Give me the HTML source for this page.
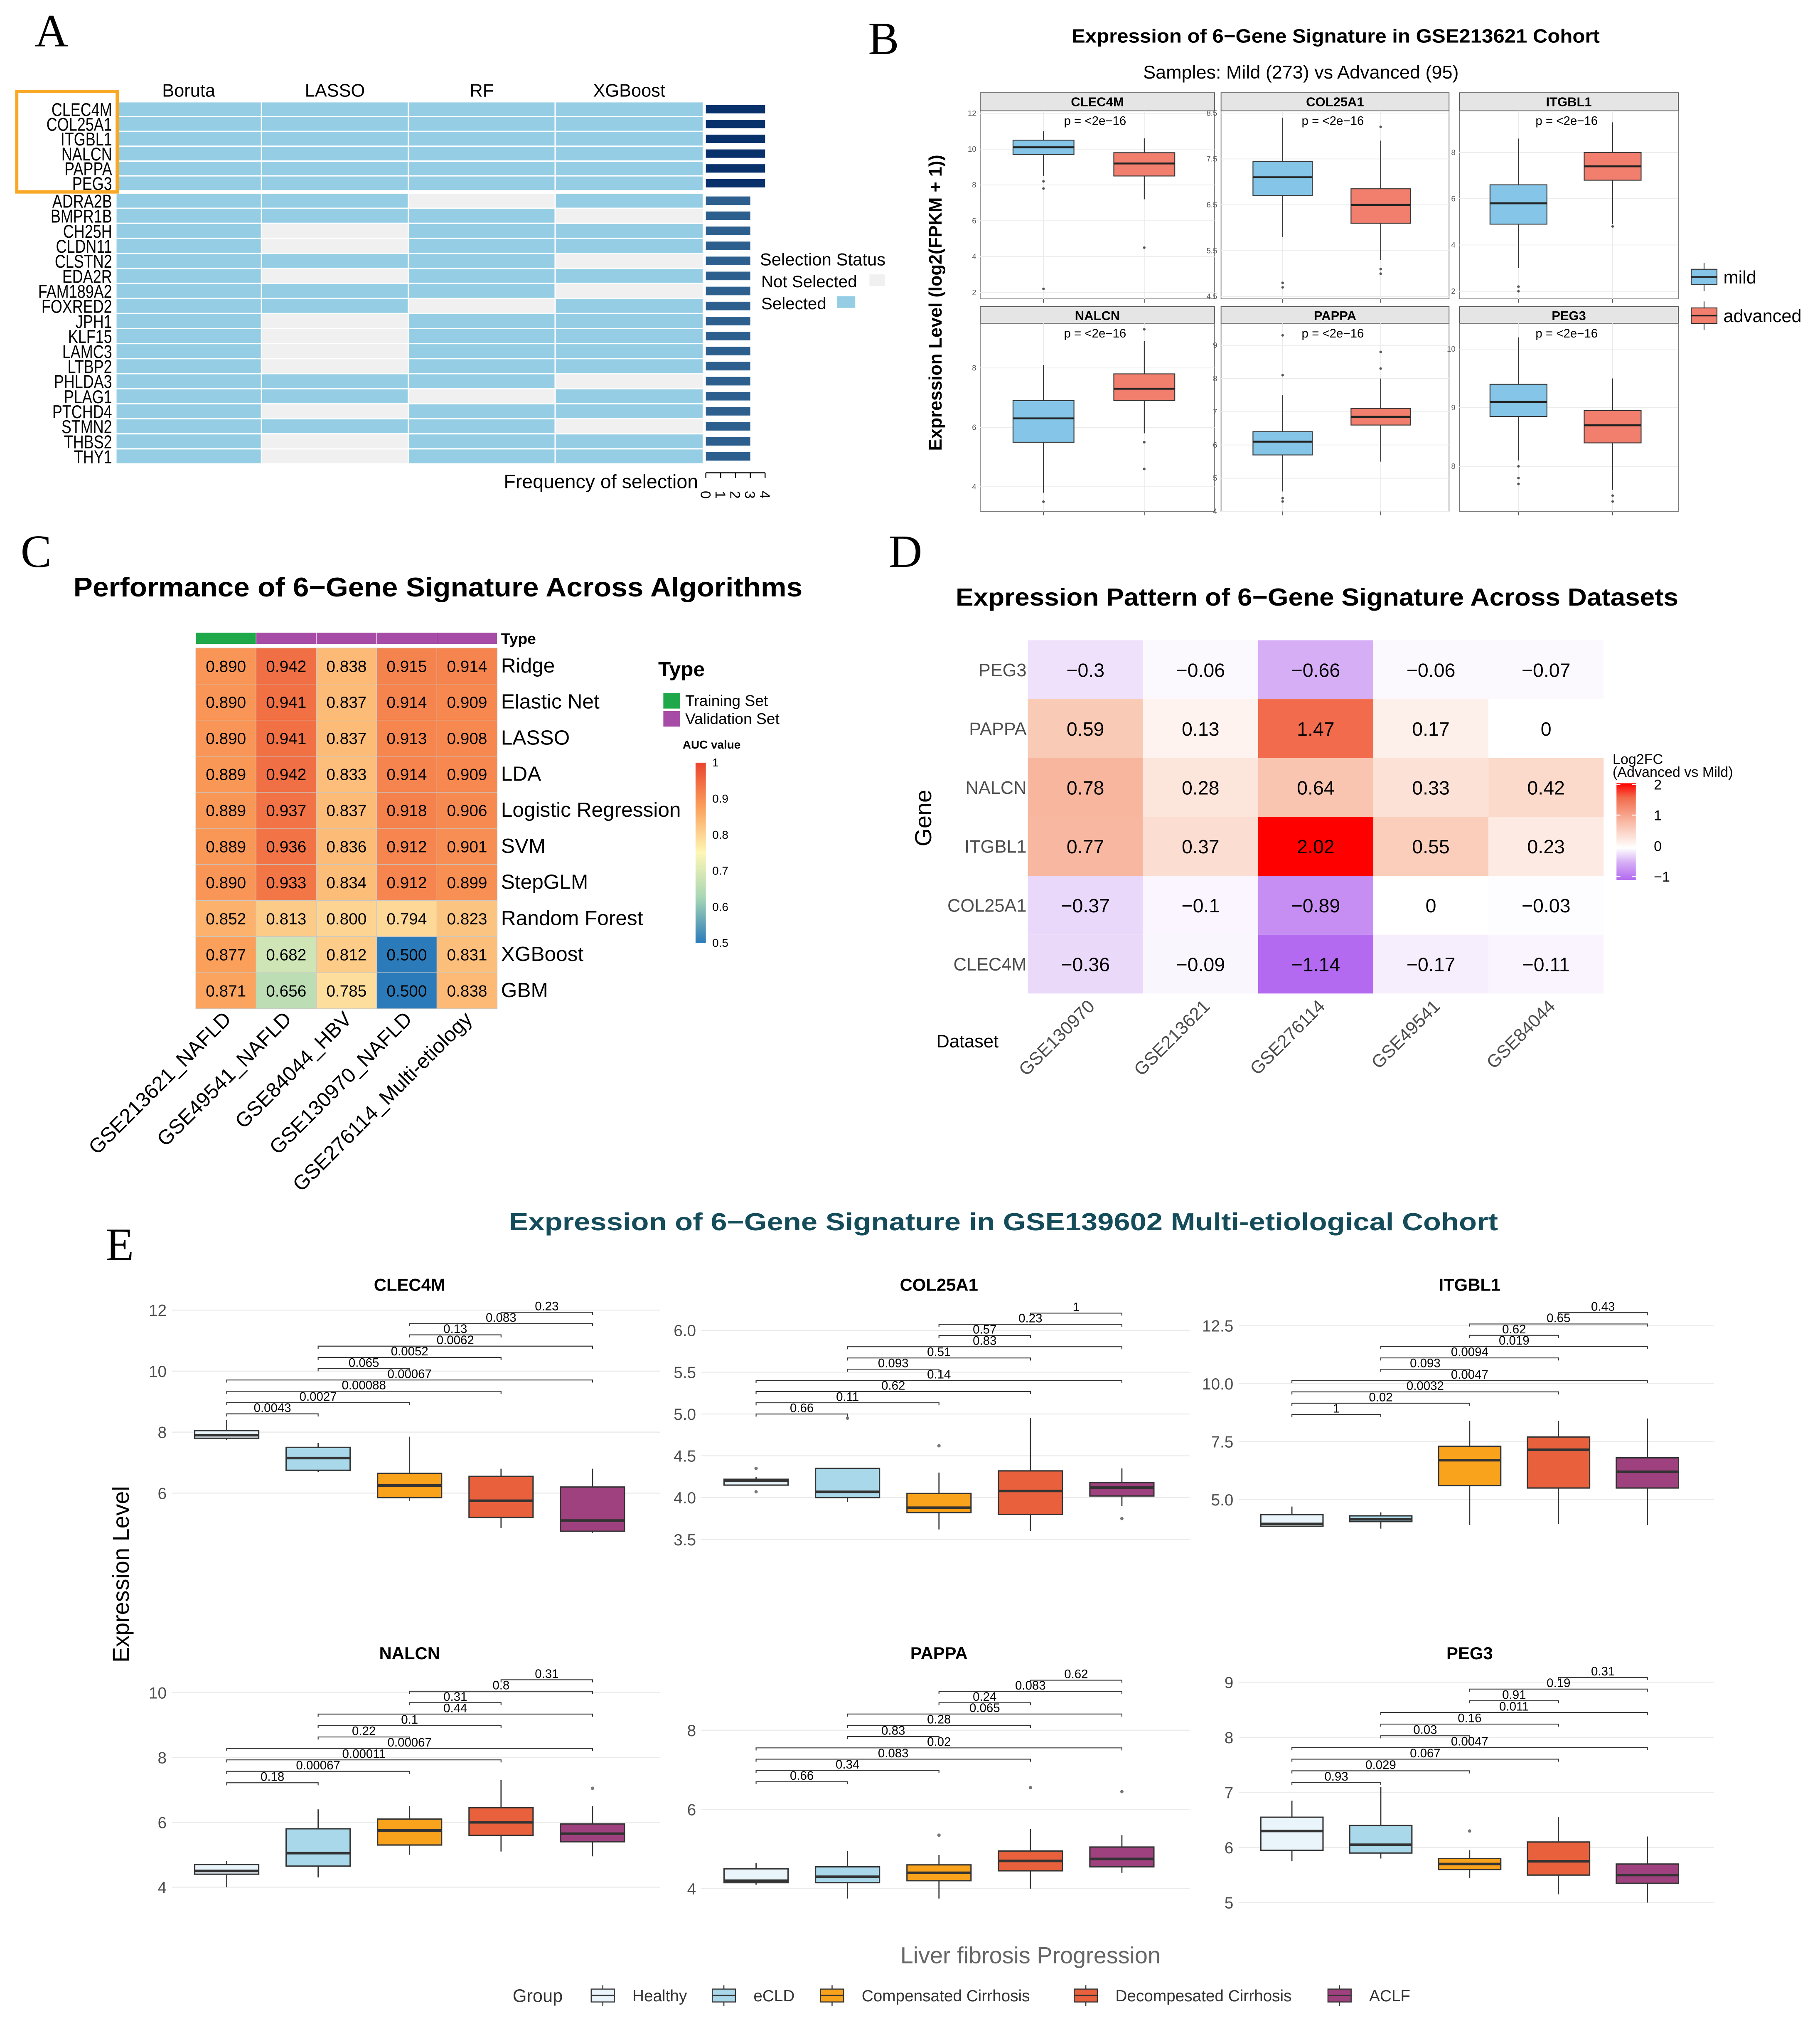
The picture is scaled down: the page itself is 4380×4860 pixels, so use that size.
<!DOCTYPE html>
<html><head><meta charset="utf-8">
<style>
html,body{margin:0;padding:0;background:#fff;}
svg{display:block;font-family:"Liberation Sans",sans-serif;}
</style></head>
<body>
<svg id="fig" xmlns="http://www.w3.org/2000/svg" width="4380" height="4860" viewBox="0 0 1413 1568" preserveAspectRatio="none"></svg>
<script>
// ---------- DATA ----------
// Panel A
const aGenes = ['CLEC4M','COL25A1','ITGBL1','NALCN','PAPPA','PEG3','ADRA2B','BMPR1B','CH25H','CLDN11','CLSTN2','EDA2R','FAM189A2','FOXRED2','JPH1','KLF15','LAMC3','LTBP2','PHLDA3','PLAG1','PTCHD4','STMN2','THBS2','THY1'];
const aMethods = ['Boruta','LASSO','RF','XGBoost'];
const aSel = [[1,1,1,1],[1,1,1,1],[1,1,1,1],[1,1,1,1],[1,1,1,1],[1,1,1,1],
 [1,1,0,1],[1,1,1,0],[1,0,1,1],[1,0,1,1],[1,1,1,0],[1,0,1,1],[1,1,1,0],[1,1,0,1],
 [1,0,1,1],[1,0,1,1],[1,0,1,1],[1,0,1,1],[1,1,1,0],[1,1,0,1],[1,0,1,1],[1,1,1,0],[1,0,1,1],[1,0,1,1]];
const aFreqTicks = [0,1,2,3,4];

// Panel B
const bGenes = ['CLEC4M','COL25A1','ITGBL1','NALCN','PAPPA','PEG3'];
const bTicks = [[2,4,6,8,10,12],[4.5,5.5,6.5,7.5,8.5],[2,4,6,8],[4,6,8],[4,5,6,7,8,9],[8,9,10]];
const bMild = [[8.5,9.7,10.1,10.5,11.0],[5.8,6.7,7.1,7.45,8.4],[3.0,4.9,5.8,6.6,8.6],[3.8,5.5,6.3,6.9,8.1],[4.6,5.7,6.1,6.4,7.5],[8.1,8.85,9.1,9.4,10.2]];
const bAdv = [[7.2,8.5,9.2,9.8,10.6],[5.3,6.1,6.5,6.85,7.9],[4.9,6.8,7.4,8.0,9.3],[5.8,6.9,7.3,7.8,8.9],[5.5,6.6,6.85,7.1,8.0],[7.6,8.4,8.7,8.95,9.5]];
const bMildOut = [[7.8,8.2,2.2],[4.7,4.8],[2.2,2.0],[3.5],[4.3,4.4,8.1,9.3],[7.8,7.7,8.0]];
const bAdvOut = [[4.5],[5.0,5.1,8.2],[4.8],[5.5,4.6,9.3],[8.3,8.8],[7.5,7.4]];
const bPLabel = ['p = <2e\u221216','p = <2e\u221216','p = <2e\u221216','p = <2e\u221216','p = <2e\u221216','p = <2e\u221216'];

// Panel C
const cAlgos = ['Ridge','Elastic Net','LASSO','LDA','Logistic Regression','SVM','StepGLM','Random Forest','XGBoost','GBM'];
const cDatasets = ['GSE213621_NAFLD','GSE49541_NAFLD','GSE84044_HBV','GSE130970_NAFLD','GSE276114_Multi-etiology'];
const cType = ['Training','Validation','Validation','Validation','Validation'];
const cAUC = [[0.890,0.942,0.838,0.915,0.914],[0.890,0.941,0.837,0.914,0.909],[0.890,0.941,0.837,0.913,0.908],[0.889,0.942,0.833,0.914,0.909],[0.889,0.937,0.837,0.918,0.906],[0.889,0.936,0.836,0.912,0.901],[0.890,0.933,0.834,0.912,0.899],[0.852,0.813,0.800,0.794,0.823],[0.877,0.682,0.812,0.500,0.831],[0.871,0.656,0.785,0.500,0.838]];
const cLegendTicks = [1,0.9,0.8,0.7,0.6,0.5];

// Panel D
const dGenes = ['PEG3','PAPPA','NALCN','ITGBL1','COL25A1','CLEC4M'];
const dDatasets = ['GSE130970','GSE213621','GSE276114','GSE49541','GSE84044'];
const dFC = [[-0.3,-0.06,-0.66,-0.06,-0.07],[0.59,0.13,1.47,0.17,0],[0.78,0.28,0.64,0.33,0.42],[0.77,0.37,2.02,0.55,0.23],[-0.37,-0.1,-0.89,0,-0.03],[-0.36,-0.09,-1.14,-0.17,-0.11]];
const dLegendTicks = [2,1,0,-1];

// Panel E
const eGenes = ['CLEC4M','COL25A1','ITGBL1','NALCN','PAPPA','PEG3'];
const eGroups = ['Healthy','eCLD','Compensated Cirrhosis','Decompesated Cirrhosis','ACLF'];
const eTicks = [[6,8,10,12],[3.5,4.0,4.5,5.0,5.5,6.0],[5.0,7.5,10.0,12.5],[4,6,8,10],[4,6,8],[5,6,7,8,9]];
const eTickLabels = [['6','8','10','12'],['3.5','4.0','4.5','5.0','5.5','6.0'],['5.0','7.5','10.0','12.5'],['4','6','8','10'],['4','6','8'],['5','6','7','8','9']];
const eStats = [
 [[7.75,7.8,7.9,8.05,8.4],[6.7,6.75,7.15,7.5,7.65],[5.75,5.85,6.25,6.65,7.85],[4.85,5.2,5.75,6.55,6.8],[4.7,4.75,5.1,6.2,6.8]],
 [[4.15,4.15,4.2,4.22,4.25],[3.95,4.0,4.07,4.35,4.35],[3.62,3.82,3.88,4.05,4.3],[3.6,3.8,4.08,4.32,4.95],[3.9,4.02,4.12,4.18,4.35]],
 [[3.85,3.85,3.95,4.35,4.7],[3.75,4.05,4.15,4.3,4.45],[3.9,5.6,6.7,7.3,8.4],[3.95,5.5,7.15,7.7,8.4],[3.9,5.5,6.2,6.8,8.5]],
 [[4.0,4.4,4.5,4.7,4.8],[4.3,4.65,5.05,5.8,6.4],[5.0,5.3,5.75,6.1,6.5],[5.1,5.6,6.0,6.45,7.3],[4.95,5.4,5.65,5.95,6.5]],
 [[4.1,4.15,4.2,4.5,4.65],[3.75,4.15,4.3,4.55,4.95],[3.75,4.2,4.4,4.6,4.85],[4.0,4.45,4.7,4.95,5.5],[4.4,4.55,4.75,5.05,5.35]],
 [[5.75,5.95,6.3,6.55,6.85],[5.8,5.9,6.05,6.4,7.1],[5.45,5.6,5.7,5.8,5.95],[5.15,5.5,5.75,6.1,6.55],[5.0,5.35,5.5,5.7,6.2]]
];
const eOut = [
 [[],[],[],[],[]],
 [[4.35,4.07],[4.95],[4.62],[],[3.75]],
 [[],[],[],[],[]],
 [[],[],[],[],[7.05]],
 [[],[],[5.35],[6.55],[6.45]],
 [[],[],[6.3],[],[]]
];
const ePairs = [[0,1],[0,2],[0,3],[0,4],[1,2],[1,3],[1,4],[2,3],[2,4],[3,4]];
const ePvals = [
 ['0.0043','0.0027','0.00088','0.00067','0.065','0.0052','0.0062','0.13','0.083','0.23'],
 ['0.66','0.11','0.62','0.14','0.093','0.51','0.83','0.57','0.23','1'],
 ['1','0.02','0.0032','0.0047','0.093','0.0094','0.019','0.62','0.65','0.43'],
 ['0.18','0.00067','0.00011','0.00067','0.22','0.1','0.44','0.31','0.8','0.31'],
 ['0.66','0.34','0.083','0.02','0.83','0.28','0.065','0.24','0.083','0.62'],
 ['0.93','0.029','0.067','0.0047','0.03','0.16','0.011','0.91','0.19','0.31']
];

// ---------- helpers ----------
const NS='http://www.w3.org/2000/svg';
const svg=document.getElementById('fig');
function mk(tag,a,p){const e=document.createElementNS(NS,tag);for(const k in a)e.setAttribute(k,a[k]);(p||svg).appendChild(e);return e;}
function tx(s,a,p){const e=mk('text',a,p);e.textContent=s;return e;}
function grp(p){return mk('g',{},p);}
function hex(c){return [parseInt(c.slice(1,3),16),parseInt(c.slice(3,5),16),parseInt(c.slice(5,7),16)];}
function lerpC(stops,t){t=Math.max(0,Math.min(1,t));for(let i=0;i<stops.length-1;i++){const [t0,c0]=stops[i],[t1,c1]=stops[i+1];if(t<=t1){const f=(t-t0)/(t1-t0||1);const a=hex(c0),b=hex(c1);return 'rgb('+a.map((v,k)=>Math.round(v+(b[k]-v)*f)).join(',')+')';}}return stops[stops.length-1][1];}

// ---------- Panel labels ----------
[['A',40,36],['B',686,42],['C',28,440],['D',703,440],['E',93,978]].forEach(([s,x,y])=>{
 const t=tx(s,{x:x,y:y,'font-family':'Liberation Serif, serif','font-size':36,'text-anchor':'middle'});
 
 
});

// ---------- Panel A ----------
(function(){
 const g=grp();
 
 
 const colX=[90,203,317,431,546];
 aMethods.forEach((m,j)=>{
  const t=tx(m,{x:(colX[j]+colX[j+1])/2,y:75,'font-size':14,'text-anchor':'middle'},g);
  
  
 });
 const rowY=i=>i<6?79+i*11.5:150+(i-6)*11.67;
 const rowH=i=>i<6?11.5:11.67;
 aGenes.forEach((gn,i)=>{
  const y=rowY(i),h=rowH(i);
  const lab=tx(gn,{x:0,y:0,'font-size':14.5,'text-anchor':'end',transform:'translate(87 '+(y+h-0.5)+') scale(0.8 1)'},g);
  
  
  let f=0;
  aSel[i].forEach((s,j)=>{
   f+=s;
   const r=mk('rect',{x:colX[j]+0.5,y:y+0.5,width:colX[j+1]-colX[j]-1,height:h-1,fill:s?'#95CEE4':'#F0F0F0'},g);
   
   
  });
  const b=mk('rect',{x:548,y:y+2.5,width:f*11.5,height:h-5,fill:f===4?'#08306B':'#2C5F8E'},g);
  
  
 });
 const box=mk('rect',{x:13,y:71,width:78,height:78,fill:'none',stroke:'#F9A825','stroke-width':2.5},g);
 
 
 mk('line',{x1:548,x2:548+46,y1:367,y2:367,stroke:'#000','stroke-width':0.8},g);
 aFreqTicks.forEach(v=>{
  const x=548+v*11.5;
  mk('line',{x1:x,x2:x,y1:367,y2:371,stroke:'#000','stroke-width':0.8},g);
  const t=tx(String(v),{x:x+4,y:373,'font-size':11,'text-anchor':'start',transform:'rotate(90 '+(x-4)+' 373)'},g);
  
  
 });
 const ft=tx('Frequency of selection',{x:542,y:379,'font-size':15,'text-anchor':'end'},g);
 
 
 const lt=tx('Selection Status',{x:590,y:206,'font-size':13.5},g);
 
 
 const l1=tx('Not Selected',{x:591,y:223,'font-size':13},g);
 
 
 mk('rect',{x:675,y:213,width:12,height:9,fill:'#F0F0F0'},g);
 const l2=tx('Selected',{x:591,y:240,'font-size':13},g);
 
 
 mk('rect',{x:650,y:230,width:14,height:9,fill:'#95CEE4'},g);
})();

// ---------- Panel B ----------
(function(){
 const g=grp();
 
 
 const t=tx('Expression of 6\u2212Gene Signature in GSE213621 Cohort',{x:832,y:33,'font-size':15,'font-weight':'bold',textLength:410,lengthAdjust:'spacingAndGlyphs'},g);
 
 
 const st=tx('Samples: Mild (273) vs Advanced (95)',{x:1010,y:61,'font-size':14.5,'text-anchor':'middle'},g);
 
 
 const yl=tx('Expression Level (log2(FPKM + 1))',{x:0,y:0,'font-size':14,'font-weight':'bold','text-anchor':'middle',transform:'translate(731 235) rotate(-90)'},g);
 
 
 const cols=[[761,943],[948,1125],[1133,1303]];
 const rows=[[72,86,232],[238,251,397]];
 const doms=[[1.64,12.14],[4.45,8.55],[1.67,9.8],[3.17,9.5],[4.0,9.66],[7.23,10.44]];
 bGenes.forEach((gn,k)=>{
  const [x0,x1]=cols[k%3],[sy,py0,py1]=rows[Math.floor(k/3)];
  const w=x1-x0,[d0,d1]=doms[k];
  const Y=v=>py1-(v-d0)/(d1-d0)*(py1-py0);
  const fg=grp(g);
  
  
  mk('rect',{x:x0,y:sy,width:w,height:py0-sy,fill:'#E5E5E5',stroke:'#555','stroke-width':0.6},fg);
  const ft=tx(gn,{x:x0+w/2,y:sy+10.5,'font-size':10,'font-weight':'bold','text-anchor':'middle'},fg);
  
  
  mk('rect',{x:x0,y:py0,width:w,height:py1-py0,fill:'#fff',stroke:'#777','stroke-width':0.6},fg);
  const xs=[x0+0.27*w,x0+0.70*w];
  xs.forEach(x=>mk('line',{x1:x,x2:x,y1:py0,y2:py1,stroke:'#EBEBEB','stroke-width':0.6},fg));
  bTicks[k].forEach(v=>{
   mk('line',{x1:x0,x2:x1,y1:Y(v),y2:Y(v),stroke:'#EBEBEB','stroke-width':0.6},fg);
   const tl=tx(String(v),{x:x0-3,y:Y(v)+2,'font-size':6,'fill':'#555','text-anchor':'end'},fg);
   
   
  });
  xs.forEach(x=>mk('line',{x1:x,x2:x,y1:py1,y2:py1+3,stroke:'#555','stroke-width':0.6},fg));
  [[bMild[k],bMildOut[k],'#85C6E8','mild'],[bAdv[k],bAdvOut[k],'#F27F6E','advanced']].forEach(([s,o,c,nm],i)=>{
   const x=xs[i],bw=0.26*w;
   mk('line',{x1:x,x2:x,y1:Y(s[0]),y2:Y(s[4]),stroke:'#333','stroke-width':0.7},fg);
   const r=mk('rect',{x:x-bw/2,y:Y(s[3]),width:bw,height:Y(s[1])-Y(s[3]),fill:c,stroke:'#333','stroke-width':0.7},fg);
   
   
   mk('line',{x1:x-bw/2,x2:x+bw/2,y1:Y(s[2]),y2:Y(s[2]),stroke:'#222','stroke-width':1.5},fg);
   o.forEach(v=>mk('circle',{cx:x,cy:Y(v),r:1,fill:'#555'},fg));
  });
  const p=tx(bPLabel[k],{x:x0+0.49*w,y:py0+11,'font-size':9.5,'text-anchor':'middle'},fg);
  
  
 });
 [['mild','#85C6E8',215],['advanced','#F27F6E',245]].forEach(([n,c,y])=>{
  mk('line',{x1:1323,x2:1323,y1:y-11,y2:y+11,stroke:'#333','stroke-width':0.7},g);
  mk('rect',{x:1313,y:y-6,width:20,height:12,fill:c,stroke:'#333','stroke-width':0.7},g);
  mk('line',{x1:1313,x2:1333,y1:y,y2:y,stroke:'#222','stroke-width':1.2},g);
  const lt=tx(n,{x:1338,y:y+5,'font-size':14},g);
  
  
 });
})();

// ---------- Panel C ----------
(function(){
 const g=grp();
 
 
 const t=tx('Performance of 6\u2212Gene Signature Across Algorithms',{x:57,y:463,'font-size':21,'font-weight':'bold',textLength:566,lengthAdjust:'spacingAndGlyphs'},g);
 
 
 const x0=152,cw=46.8,y0=503,rh=28;
 const stops=[[0,'#2B7BBA'],[0.25,'#A7D6B5'],[0.5,'#FEF6B5'],[0.75,'#FBA15C'],[1,'#E9442F']];
 const col=v=>lerpC(stops,(v-0.5)/0.5);
 cType.forEach((ty,j)=>{
  const r=mk('rect',{x:x0+j*cw,y:491,width:cw,height:9,fill:ty==='Training'?'#1FA84A':'#A64CA6',stroke:'#fff','stroke-width':0.3},g);
  
  
 });
 tx('Type',{x:389,y:500,'font-size':12,'font-weight':'bold'},g);
 cAlgos.forEach((a,i)=>{
  cAUC[i].forEach((v,j)=>{
   const r=mk('rect',{x:x0+j*cw,y:y0+i*rh,width:cw,height:rh,fill:col(v),stroke:'#C8C8C8','stroke-width':0.4},g);
   
   
   tx(v.toFixed(3),{x:x0+j*cw+cw/2,y:y0+i*rh+rh/2+4.5,'font-size':12.5,'text-anchor':'middle'},g);
  });
  const l=tx(a,{x:389,y:y0+i*rh+rh/2+5,'font-size':16},g);
  
  
 });
 cDatasets.forEach((d,j)=>{
  const x=x0+j*cw+cw/2+5,y=792;
  const l=tx(d,{x:x,y:y,'font-size':16,'text-anchor':'end',transform:'rotate(-45 '+x+' '+y+')'},g);
  
  
 });
 const lt=tx('Type',{x:511,y:525,'font-size':16,'font-weight':'bold'},g);
 
 
 mk('rect',{x:515,y:538,width:13,height:12,fill:'#1FA84A'},g);
 mk('rect',{x:515,y:552,width:13,height:12,fill:'#A64CA6'},g);
 const e1=tx('Training Set',{x:532,y:548,'font-size':12},g);
 
 
 const e2=tx('Validation Set',{x:532,y:562,'font-size':12},g);
 
 
 tx('AUC value',{x:530,y:581,'font-size':9,'font-weight':'bold'},g);
 const defs=mk('defs',{},g);
 const lg=mk('linearGradient',{id:'aucg',x1:0,y1:1,x2:0,y2:0},defs);
 stops.forEach(([o,c])=>mk('stop',{offset:o,'stop-color':c},lg));
 const cb=mk('rect',{x:540,y:592,width:8,height:140,fill:'url(#aucg)'},g);
 
 
 cLegendTicks.forEach(v=>{
  const y=732-(v-0.5)/0.5*140;
  tx(String(v),{x:553,y:y+3,'font-size':9},g);
 });
})();

// ---------- Panel D ----------
(function(){
 const g=grp();
 
 
 const t=tx('Expression Pattern of 6\u2212Gene Signature Across Datasets',{x:742,y:470,'font-size':19,'font-weight':'bold',textLength:561,lengthAdjust:'spacingAndGlyphs'},g);
 
 
 const x0=798,cw=89.4,y0=497,rh=45.7;
 const pos=[[0,'#FFFFFF'],[0.3,'#F9C9B4'],[0.73,'#F26B4C'],[1,'#FF0000']];
 const neg=[[0,'#FFFFFF'],[0.26,'#EFE2FB'],[0.58,'#D6AEF5'],[1,'#B46AF0']];
 const col=v=>v>=0?lerpC(pos,v/2.02):lerpC(neg,-v/1.14);
 dGenes.forEach((gn,i)=>{
  dFC[i].forEach((v,j)=>{
   const r=mk('rect',{x:x0+j*cw,y:y0+i*rh,width:cw,height:rh,fill:col(v)},g);
   
   
   tx(String(v).replace('-','\u2212'),{x:x0+j*cw+cw/2,y:y0+i*rh+rh/2+5.5,'font-size':15,'text-anchor':'middle'},g);
  });
  const l=tx(gn,{x:797,y:y0+i*rh+rh/2+5,'font-size':14,'fill':'#4D4D4D','text-anchor':'end'},g);
  
  
 });
 dDatasets.forEach((d,j)=>{
  const x=x0+j*cw+cw/2+8,y=782;
  const l=tx(d,{x:x,y:y,'font-size':14,'fill':'#4D4D4D','text-anchor':'end',transform:'rotate(-45 '+x+' '+y+')'},g);
  
  
 });
 const gy=tx('Gene',{x:0,y:0,'font-size':18,'text-anchor':'middle',transform:'translate(723 635) rotate(-90)'},g);
 
 
 const dx=tx('Dataset',{x:727,y:813,'font-size':14},g);
 
 
 tx('Log2FC',{x:1252,y:593,'font-size':11},g);
 tx('(Advanced vs Mild)',{x:1252,y:603,'font-size':11},g);
 const defs=mk('defs',{},g);
 const lg=mk('linearGradient',{id:'fcg',x1:0,y1:1,x2:0,y2:0},defs);
 [[0,'#B46AF0'],[0.18,'#D6AEF5'],[0.33,'#FFFFFF'],[0.6,'#F9B9A4'],[0.85,'#F26B4C'],[1,'#FF0000']].forEach(([o,c])=>mk('stop',{offset:o,'stop-color':c},lg));
 const cb=mk('rect',{x:1255,y:608,width:15,height:75,fill:'url(#fcg)'},g);
 
 
 dLegendTicks.forEach(v=>{
  const y=682-(v+1.07)/3.15*75;
  mk('line',{x1:1255,x2:1258,y1:y,y2:y,stroke:'#fff','stroke-width':0.8},g);
  mk('line',{x1:1267,x2:1270,y1:y,y2:y,stroke:'#fff','stroke-width':0.8},g);
  tx(String(v).replace('-','\u2212'),{x:1284,y:y+4,'font-size':11},g);
 });
})();

// ---------- Panel E ----------
(function(){
 const g=grp();
 
 
 const t=tx('Expression of 6\u2212Gene Signature in GSE139602 Multi-etiological Cohort',{x:395,y:955,'font-size':19,'font-weight':'bold','fill':'#154C5A',textLength:768,lengthAdjust:'spacingAndGlyphs'},g);
 
 
 const yl=tx('Expression Level',{x:0,y:0,'font-size':18,'text-anchor':'middle',transform:'translate(100 1222) rotate(-90)'},g);
 
 
 const colors=['#EAF4FB','#A8D8EA','#F9A21B','#E8603C','#A0417F'];
 const c1=[176,587,1003], sp=[71,71,69];
 const rows=[[1008,1195,1002],[1293,1482,1288]];
 const doms=[[4.48,12.38],[3.5,6.38],[3.28,13.67],[3.32,10.83],[3.48,9.63],[4.88,9.30]];
 const brS=[8.6,5.0,8.67,7.22,6.7,7.18], brStep=[0.37,0.134,0.488,0.353,0.285,0.212];
 eGenes.forEach((gn,k)=>{
  const ci=k%3,[py0,py1,ty]=rows[Math.floor(k/3)];
  const [d0,d1]=doms[k];
  const Y=v=>py1-(v-d0)/(d1-d0)*(py1-py0);
  const X=i=>c1[ci]+i*sp[ci];
  const fg=grp(g);
  
  
  const xl=X(0)-0.6*sp[ci], xr=X(4)+0.6*sp[ci];
  const tt=tx(gn,{x:(xl+xr)/2,y:ty,'font-size':13.5,'font-weight':'bold','text-anchor':'middle'},fg);
  
  
  eTicks[k].forEach((v,ti)=>{
   mk('line',{x1:xl,x2:xr+10,y1:Y(v),y2:Y(v),stroke:'#EBEBEB','stroke-width':0.8},fg);
   const l=tx(eTickLabels[k][ti],{x:xl-4,y:Y(v)+4.5,'font-size':12.5,'fill':'#4D4D4D','text-anchor':'end'},fg);
   
   
  });
  eStats[k].forEach((s,i)=>{
   const x=X(i),bw=0.7*sp[ci];
   mk('line',{x1:x,x2:x,y1:Y(s[0]),y2:Y(s[4]),stroke:'#333','stroke-width':0.9},fg);
   const r=mk('rect',{x:x-bw/2,y:Y(s[3]),width:bw,height:Math.max(1,Y(s[1])-Y(s[3])),fill:colors[i],stroke:'#333','stroke-width':1},fg);
   
   
   mk('line',{x1:x-bw/2,x2:x+bw/2,y1:Y(s[2]),y2:Y(s[2]),stroke:'#333','stroke-width':2},fg);
   eOut[k][i].forEach(v=>mk('circle',{cx:x,cy:Y(v),r:1.3,fill:'#777'},fg));
  });
  ePairs.forEach(([a,b],n)=>{
   const y=Y(brS[k]+n*brStep[k]);
   mk('path',{d:'M'+X(a)+' '+(y+2)+'V'+y+'H'+X(b)+'V'+(y+2),fill:'none',stroke:'#333','stroke-width':0.7},fg);
   const l=tx(ePvals[k][n],{x:(X(a)+X(b))/2,y:y-1.5,'font-size':9.5,'text-anchor':'middle'},fg);
   
   
  });
 });
 const xt=tx('Liver fibrosis Progression',{x:800,y:1524,'font-size':18,'fill':'#666','text-anchor':'middle'},g);
 
 
 const lg=tx('Group',{x:398,y:1554,'font-size':14,'fill':'#333'},g);
 
 
 const lx=[459,553,637,834,1031];
 eGroups.forEach((n,i)=>{
  const x=lx[i];
  mk('line',{x1:x+9,x2:x+9,y1:1541,y2:1557,stroke:'#333','stroke-width':0.8},g);
  mk('rect',{x:x,y:1544,width:18,height:10,fill:colors[i],stroke:'#333','stroke-width':0.8},g);
  mk('line',{x1:x,x2:x+18,y1:1549,y2:1549,stroke:'#333','stroke-width':1.2},g);
  const l=tx(n,{x:x+32,y:1553.5,'font-size':12.5,'fill':'#333'},g);
  
  
 });
})();
</script>
</body></html>
